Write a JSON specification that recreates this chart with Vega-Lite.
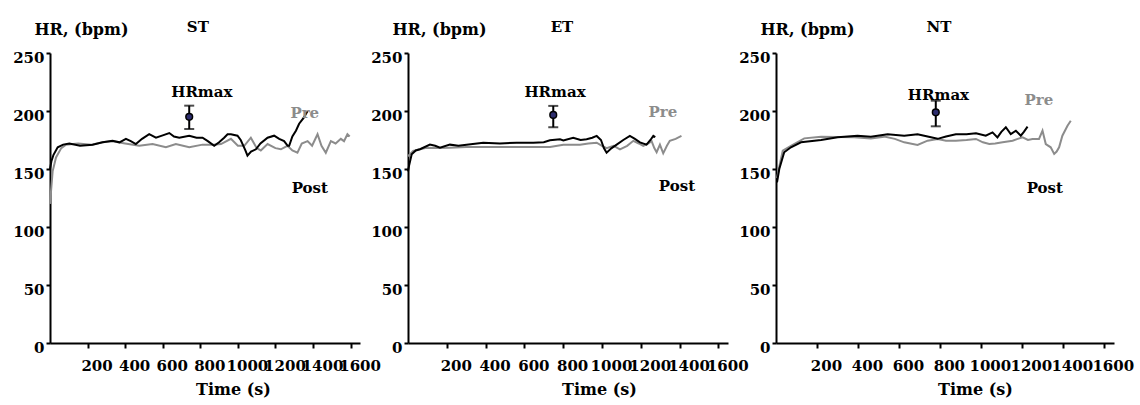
{
  "$schema": "https://vega.github.io/schema/vega-lite/v6.json",
  "background": "white",
  "padding": {"left": 12, "top": 20, "right": 5, "bottom": 2},
  "bounds": "flush",
  "spacing": 48,
  "config": {
    "view": {"stroke": null},
    "font": "DejaVu Serif",
    "axis": {"domainColor": "#000", "domainWidth": 2, "tickColor": "#000", "tickWidth": 2, "tickSize": 4,
      "labelFont": "DejaVu Serif", "labelFontWeight": "bold", "labelFontSize": 15, "labelColor": "#000",
      "titleFont": "DejaVu Serif", "titleFontWeight": "bold", "titleFontSize": 16, "titleColor": "#000",
      "grid": false, "labelOverlap": false, "labelBound": false, "labelFlush": false, "format": "d"},
    "axisX": {"tickSize": 5, "labelPadding": 10, "labelOffset": 9, "titleAlign": "center", "titleBaseline": "alphabetic", "titleY": 51},
    "axisY": {"labelPadding": 2, "labelOffset": 4, "titleAngle": 0, "titleAlign": "left", "titleBaseline": "alphabetic", "titleX": -16, "titleY": -19}
  },
  "datasets": {
    "hr": [
      {"panel":"ST","series":"Pre","t":0,"hr":120},{"panel":"ST","series":"Pre","t":14,"hr":148},{"panel":"ST","series":"Pre","t":32,"hr":160},{"panel":"ST","series":"Pre","t":60,"hr":168},{"panel":"ST","series":"Pre","t":85,"hr":171},{"panel":"ST","series":"Pre","t":150,"hr":172},{"panel":"ST","series":"Pre","t":220,"hr":171},{"panel":"ST","series":"Pre","t":280,"hr":173},{"panel":"ST","series":"Pre","t":333,"hr":174},{"panel":"ST","series":"Pre","t":400,"hr":172},{"panel":"ST","series":"Pre","t":475,"hr":170},{"panel":"ST","series":"Pre","t":546,"hr":171.5},{"panel":"ST","series":"Pre","t":617,"hr":168.7},{"panel":"ST","series":"Pre","t":670,"hr":171.5},{"panel":"ST","series":"Pre","t":741,"hr":168.7},{"panel":"ST","series":"Pre","t":812,"hr":171},{"panel":"ST","series":"Pre","t":870,"hr":171},{"panel":"ST","series":"Pre","t":910,"hr":171.5},{"panel":"ST","series":"Pre","t":963,"hr":176},{"panel":"ST","series":"Pre","t":1000,"hr":170},{"panel":"ST","series":"Pre","t":1034,"hr":170},{"panel":"ST","series":"Pre","t":1069,"hr":177},{"panel":"ST","series":"Pre","t":1100,"hr":168},{"panel":"ST","series":"Pre","t":1122,"hr":166},{"panel":"ST","series":"Pre","t":1158,"hr":171.5},{"panel":"ST","series":"Pre","t":1200,"hr":168},{"panel":"ST","series":"Pre","t":1229,"hr":167},{"panel":"ST","series":"Pre","t":1264,"hr":170},{"panel":"ST","series":"Pre","t":1290,"hr":166},{"panel":"ST","series":"Pre","t":1317,"hr":164},{"panel":"ST","series":"Pre","t":1340,"hr":172},{"panel":"ST","series":"Pre","t":1371,"hr":174},{"panel":"ST","series":"Pre","t":1395,"hr":170},{"panel":"ST","series":"Pre","t":1424,"hr":180},{"panel":"ST","series":"Pre","t":1445,"hr":170},{"panel":"ST","series":"Pre","t":1468,"hr":164},{"panel":"ST","series":"Pre","t":1495,"hr":174},{"panel":"ST","series":"Pre","t":1520,"hr":172},{"panel":"ST","series":"Pre","t":1548,"hr":176},{"panel":"ST","series":"Pre","t":1565,"hr":174},{"panel":"ST","series":"Pre","t":1583,"hr":180},{"panel":"ST","series":"Pre","t":1595,"hr":178},
      {"panel":"ST","series":"Post","t":0,"hr":150},{"panel":"ST","series":"Post","t":8,"hr":157},{"panel":"ST","series":"Post","t":18,"hr":162},{"panel":"ST","series":"Post","t":41,"hr":168.7},{"panel":"ST","series":"Post","t":70,"hr":171},{"panel":"ST","series":"Post","t":103,"hr":172},{"panel":"ST","series":"Post","t":160,"hr":170},{"panel":"ST","series":"Post","t":227,"hr":171},{"panel":"ST","series":"Post","t":280,"hr":173},{"panel":"ST","series":"Post","t":333,"hr":174.4},{"panel":"ST","series":"Post","t":370,"hr":173},{"panel":"ST","series":"Post","t":404,"hr":176},{"panel":"ST","series":"Post","t":430,"hr":174},{"panel":"ST","series":"Post","t":457,"hr":171.5},{"panel":"ST","series":"Post","t":490,"hr":176},{"panel":"ST","series":"Post","t":528,"hr":180},{"panel":"ST","series":"Post","t":564,"hr":177},{"panel":"ST","series":"Post","t":600,"hr":179},{"panel":"ST","series":"Post","t":635,"hr":181},{"panel":"ST","series":"Post","t":660,"hr":178},{"panel":"ST","series":"Post","t":688,"hr":177},{"panel":"ST","series":"Post","t":741,"hr":178.7},{"panel":"ST","series":"Post","t":780,"hr":177},{"panel":"ST","series":"Post","t":812,"hr":177},{"panel":"ST","series":"Post","t":840,"hr":174},{"panel":"ST","series":"Post","t":874,"hr":170},{"panel":"ST","series":"Post","t":900,"hr":173},{"panel":"ST","series":"Post","t":927,"hr":177},{"panel":"ST","series":"Post","t":945,"hr":180},{"panel":"ST","series":"Post","t":963,"hr":180},{"panel":"ST","series":"Post","t":998,"hr":178.7},{"panel":"ST","series":"Post","t":1015,"hr":175},{"panel":"ST","series":"Post","t":1025,"hr":171.5},{"panel":"ST","series":"Post","t":1040,"hr":166},{"panel":"ST","series":"Post","t":1051,"hr":161.5},{"panel":"ST","series":"Post","t":1070,"hr":165},{"panel":"ST","series":"Post","t":1096,"hr":167},{"panel":"ST","series":"Post","t":1120,"hr":172},{"panel":"ST","series":"Post","t":1158,"hr":177},{"panel":"ST","series":"Post","t":1193,"hr":178.7},{"panel":"ST","series":"Post","t":1220,"hr":176},{"panel":"ST","series":"Post","t":1246,"hr":174},{"panel":"ST","series":"Post","t":1265,"hr":170},{"panel":"ST","series":"Post","t":1273,"hr":170},{"panel":"ST","series":"Post","t":1290,"hr":178},{"panel":"ST","series":"Post","t":1309,"hr":183},{"panel":"ST","series":"Post","t":1326,"hr":189},{"panel":"ST","series":"Post","t":1350,"hr":194},{"panel":"ST","series":"Post","t":1371,"hr":200},
      {"panel":"ET","series":"Pre","t":0,"hr":161},{"panel":"ET","series":"Pre","t":27,"hr":165.5},{"panel":"ET","series":"Pre","t":60,"hr":167},{"panel":"ET","series":"Pre","t":96,"hr":168.4},{"panel":"ET","series":"Pre","t":150,"hr":168},{"panel":"ET","series":"Pre","t":216,"hr":168.4},{"panel":"ET","series":"Pre","t":300,"hr":169},{"panel":"ET","series":"Pre","t":388,"hr":169},{"panel":"ET","series":"Pre","t":470,"hr":169},{"panel":"ET","series":"Pre","t":560,"hr":169},{"panel":"ET","series":"Pre","t":650,"hr":169},{"panel":"ET","series":"Pre","t":732,"hr":169},{"panel":"ET","series":"Pre","t":801,"hr":171},{"panel":"ET","series":"Pre","t":850,"hr":171},{"panel":"ET","series":"Pre","t":887,"hr":171},{"panel":"ET","series":"Pre","t":930,"hr":172},{"panel":"ET","series":"Pre","t":973,"hr":172.7},{"panel":"ET","series":"Pre","t":1000,"hr":170},{"panel":"ET","series":"Pre","t":1024,"hr":168},{"panel":"ET","series":"Pre","t":1060,"hr":170},{"panel":"ET","series":"Pre","t":1093,"hr":167},{"panel":"ET","series":"Pre","t":1130,"hr":170},{"panel":"ET","series":"Pre","t":1162,"hr":174.3},{"panel":"ET","series":"Pre","t":1190,"hr":172},{"panel":"ET","series":"Pre","t":1213,"hr":170},{"panel":"ET","series":"Pre","t":1240,"hr":172},{"panel":"ET","series":"Pre","t":1256,"hr":174},{"panel":"ET","series":"Pre","t":1270,"hr":168},{"panel":"ET","series":"Pre","t":1282,"hr":164.5},{"panel":"ET","series":"Pre","t":1299,"hr":171},{"panel":"ET","series":"Pre","t":1316,"hr":163.5},{"panel":"ET","series":"Pre","t":1335,"hr":170},{"panel":"ET","series":"Pre","t":1350,"hr":174.3},{"panel":"ET","series":"Pre","t":1380,"hr":176},{"panel":"ET","series":"Pre","t":1410,"hr":178.5},
      {"panel":"ET","series":"Post","t":0,"hr":148},{"panel":"ET","series":"Post","t":5,"hr":152.5},{"panel":"ET","series":"Post","t":19,"hr":162.6},{"panel":"ET","series":"Post","t":40,"hr":166},{"panel":"ET","series":"Post","t":62,"hr":167},{"panel":"ET","series":"Post","t":113,"hr":171},{"panel":"ET","series":"Post","t":140,"hr":170},{"panel":"ET","series":"Post","t":165,"hr":168.4},{"panel":"ET","series":"Post","t":216,"hr":171},{"panel":"ET","series":"Post","t":260,"hr":170},{"panel":"ET","series":"Post","t":302,"hr":171},{"panel":"ET","series":"Post","t":388,"hr":172.7},{"panel":"ET","series":"Post","t":474,"hr":172},{"panel":"ET","series":"Post","t":560,"hr":172.7},{"panel":"ET","series":"Post","t":646,"hr":172.7},{"panel":"ET","series":"Post","t":700,"hr":173},{"panel":"ET","series":"Post","t":732,"hr":174.7},{"panel":"ET","series":"Post","t":784,"hr":175.6},{"panel":"ET","series":"Post","t":801,"hr":174.7},{"panel":"ET","series":"Post","t":852,"hr":177},{"panel":"ET","series":"Post","t":890,"hr":175},{"panel":"ET","series":"Post","t":921,"hr":175.6},{"panel":"ET","series":"Post","t":950,"hr":177},{"panel":"ET","series":"Post","t":973,"hr":178.5},{"panel":"ET","series":"Post","t":995,"hr":175},{"panel":"ET","series":"Post","t":1010,"hr":168},{"panel":"ET","series":"Post","t":1024,"hr":164},{"panel":"ET","series":"Post","t":1050,"hr":168},{"panel":"ET","series":"Post","t":1076,"hr":171},{"panel":"ET","series":"Post","t":1110,"hr":175},{"panel":"ET","series":"Post","t":1144,"hr":178.5},{"panel":"ET","series":"Post","t":1170,"hr":176},{"panel":"ET","series":"Post","t":1196,"hr":173},{"panel":"ET","series":"Post","t":1230,"hr":171},{"panel":"ET","series":"Post","t":1250,"hr":175},{"panel":"ET","series":"Post","t":1265,"hr":178.5},{"panel":"ET","series":"Post","t":1275,"hr":177.5},
      {"panel":"NT","series":"Pre","t":5,"hr":142},{"panel":"NT","series":"Pre","t":16,"hr":152},{"panel":"NT","series":"Pre","t":33,"hr":165.8},{"panel":"NT","series":"Pre","t":73,"hr":170},{"panel":"NT","series":"Pre","t":138,"hr":176.4},{"panel":"NT","series":"Pre","t":220,"hr":177.9},{"panel":"NT","series":"Pre","t":300,"hr":177.5},{"panel":"NT","series":"Pre","t":382,"hr":177.3},{"panel":"NT","series":"Pre","t":463,"hr":176.4},{"panel":"NT","series":"Pre","t":528,"hr":177.9},{"panel":"NT","series":"Pre","t":580,"hr":176},{"panel":"NT","series":"Pre","t":626,"hr":173},{"panel":"NT","series":"Pre","t":691,"hr":170.7},{"panel":"NT","series":"Pre","t":740,"hr":174.4},{"panel":"NT","series":"Pre","t":789,"hr":175.9},{"panel":"NT","series":"Pre","t":830,"hr":174.4},{"panel":"NT","series":"Pre","t":878,"hr":174.4},{"panel":"NT","series":"Pre","t":930,"hr":175},{"panel":"NT","series":"Pre","t":976,"hr":175.9},{"panel":"NT","series":"Pre","t":1010,"hr":173},{"panel":"NT","series":"Pre","t":1041,"hr":171.5},{"panel":"NT","series":"Pre","t":1070,"hr":172},{"panel":"NT","series":"Pre","t":1106,"hr":173},{"panel":"NT","series":"Pre","t":1155,"hr":174.4},{"panel":"NT","series":"Pre","t":1180,"hr":176},{"panel":"NT","series":"Pre","t":1204,"hr":177.3},{"panel":"NT","series":"Pre","t":1230,"hr":175},{"panel":"NT","series":"Pre","t":1252,"hr":175.9},{"panel":"NT","series":"Pre","t":1284,"hr":175.9},{"panel":"NT","series":"Pre","t":1301,"hr":183},{"panel":"NT","series":"Pre","t":1317,"hr":171.5},{"panel":"NT","series":"Pre","t":1341,"hr":168.7},{"panel":"NT","series":"Pre","t":1358,"hr":163},{"panel":"NT","series":"Pre","t":1370,"hr":165},{"panel":"NT","series":"Pre","t":1382,"hr":168.7},{"panel":"NT","series":"Pre","t":1398,"hr":178.7},{"panel":"NT","series":"Pre","t":1423,"hr":187.3},{"panel":"NT","series":"Pre","t":1439,"hr":191.6},
      {"panel":"NT","series":"Post","t":5,"hr":138.5},{"panel":"NT","series":"Post","t":16,"hr":150},{"panel":"NT","series":"Post","t":40,"hr":164.4},{"panel":"NT","series":"Post","t":73,"hr":168.7},{"panel":"NT","series":"Post","t":122,"hr":173},{"panel":"NT","series":"Post","t":220,"hr":175},{"panel":"NT","series":"Post","t":301,"hr":177.3},{"panel":"NT","series":"Post","t":398,"hr":178.7},{"panel":"NT","series":"Post","t":463,"hr":177.9},{"panel":"NT","series":"Post","t":545,"hr":180},{"panel":"NT","series":"Post","t":626,"hr":178.7},{"panel":"NT","series":"Post","t":691,"hr":180},{"panel":"NT","series":"Post","t":740,"hr":178},{"panel":"NT","series":"Post","t":789,"hr":176},{"panel":"NT","series":"Post","t":830,"hr":178},{"panel":"NT","series":"Post","t":878,"hr":180},{"panel":"NT","series":"Post","t":930,"hr":180},{"panel":"NT","series":"Post","t":976,"hr":180.8},{"panel":"NT","series":"Post","t":1024,"hr":178.7},{"panel":"NT","series":"Post","t":1057,"hr":181.6},{"panel":"NT","series":"Post","t":1081,"hr":177.3},{"panel":"NT","series":"Post","t":1100,"hr":182},{"panel":"NT","series":"Post","t":1122,"hr":186},{"panel":"NT","series":"Post","t":1146,"hr":180},{"panel":"NT","series":"Post","t":1171,"hr":183},{"panel":"NT","series":"Post","t":1195,"hr":178.7},{"panel":"NT","series":"Post","t":1210,"hr":182},{"panel":"NT","series":"Post","t":1228,"hr":186.5}
    ],
    "hrmax": [
      {"panel":"ST","t":741,"hr":195,"lo":184.5,"hi":204.6},
      {"panel":"ET","t":749,"hr":196.6,"lo":186,"hi":204.4},
      {"panel":"NT","t":780,"hr":198.9,"lo":186.8,"hi":208.9}
    ],
    "labels": [
      {"panel":"ST","label":"HRmax","t":808,"hr":216},{"panel":"ST","label":"Pre","t":1356,"hr":198},{"panel":"ST","label":"Post","t":1383,"hr":134},{"panel":"ST","label":"ST","t":787,"hr":272},
      {"panel":"ET","label":"HRmax","t":758,"hr":216},{"panel":"ET","label":"Pre","t":1314,"hr":199},{"panel":"ET","label":"Post","t":1387,"hr":135},{"panel":"ET","label":"ET","t":794,"hr":272},
      {"panel":"NT","label":"HRmax","t":793,"hr":214},{"panel":"NT","label":"Pre","t":1283,"hr":209.5},{"panel":"NT","label":"Post","t":1312,"hr":134},{"panel":"NT","label":"NT","t":795,"hr":272}
    ]
  },
  "hconcat": [
    {
      "width": 310, "height": 290,
      "encoding": {
        "x": {"field": "t", "type": "quantitative", "title": "Time (s)", "scale": {"domain": [0, 1650], "nice": false}, "axis": {"values": [200,400,600,800,1000,1200,1400,1600], "titleX": 183}},
        "y": {"field": "hr", "type": "quantitative", "title": "HR, (bpm)", "scale": {"domain": [0, 250], "nice": false}, "axis": {"values": [0,50,100,150,200,250]}}
      },
      "layer": [
        {"data": {"name": "hr"}, "transform": [{"filter": "datum.panel === 'ST' && datum.series === 'Pre'"}], "mark": {"type": "line", "strokeWidth": 2, "color": "#8c8c8c"}, "encoding": {"order": {"field": "t", "type": "quantitative"}}},
        {"data": {"name": "hr"}, "transform": [{"filter": "datum.panel === 'ST' && datum.series === 'Post'"}], "mark": {"type": "line", "strokeWidth": 2, "color": "#000000"}, "encoding": {"order": {"field": "t", "type": "quantitative"}}},
        {"data": {"name": "hrmax"}, "transform": [{"filter": "datum.panel === 'ST'"}], "mark": {"type": "errorbar", "color": "#000", "ticks": {"size": 10, "thickness": 2, "color": "#000"}, "rule": {"strokeWidth": 2, "color": "#000"}}, "encoding": {"y": {"field": "lo", "type": "quantitative", "title": "HR, (bpm)"}, "y2": {"field": "hi"}}},
        {"data": {"name": "hrmax"}, "transform": [{"filter": "datum.panel === 'ST'"}], "mark": {"type": "point", "filled": true, "fill": "#2d2d6e", "stroke": "#000", "strokeWidth": 1.5, "size": 45, "opacity": 1}},
        {"data": {"name": "labels"}, "transform": [{"filter": "datum.panel === 'ST'"}], "mark": {"type": "text", "font": "DejaVu Serif", "fontWeight": "bold", "fontSize": 15, "baseline": "middle", "align": "center"}, "encoding": {"text": {"field": "label"}, "color": {"field": "label", "type": "nominal", "scale": {"domain": ["Pre", "Post", "HRmax", "ST", "ET", "NT"], "range": ["#8c8c8c", "#000000", "#000000", "#000000", "#000000", "#000000"]}, "legend": null}}}
      ]
    },
    {
      "width": 320, "height": 290,
      "encoding": {
        "x": {"field": "t", "type": "quantitative", "title": "Time (s)", "scale": {"domain": [0, 1650], "nice": false}, "axis": {"values": [200,400,600,800,1000,1200,1400,1600], "titleX": 191}},
        "y": {"field": "hr", "type": "quantitative", "title": "HR, (bpm)", "scale": {"domain": [0, 250], "nice": false}, "axis": {"values": [0,50,100,150,200,250]}}
      },
      "layer": [
        {"data": {"name": "hr"}, "transform": [{"filter": "datum.panel === 'ET' && datum.series === 'Pre'"}], "mark": {"type": "line", "strokeWidth": 2, "color": "#8c8c8c"}, "encoding": {"order": {"field": "t", "type": "quantitative"}}},
        {"data": {"name": "hr"}, "transform": [{"filter": "datum.panel === 'ET' && datum.series === 'Post'"}], "mark": {"type": "line", "strokeWidth": 2, "color": "#000000"}, "encoding": {"order": {"field": "t", "type": "quantitative"}}},
        {"data": {"name": "hrmax"}, "transform": [{"filter": "datum.panel === 'ET'"}], "mark": {"type": "errorbar", "color": "#000", "ticks": {"size": 10, "thickness": 2, "color": "#000"}, "rule": {"strokeWidth": 2, "color": "#000"}}, "encoding": {"y": {"field": "lo", "type": "quantitative", "title": "HR, (bpm)"}, "y2": {"field": "hi"}}},
        {"data": {"name": "hrmax"}, "transform": [{"filter": "datum.panel === 'ET'"}], "mark": {"type": "point", "filled": true, "fill": "#2d2d6e", "stroke": "#000", "strokeWidth": 1.5, "size": 45, "opacity": 1}},
        {"data": {"name": "labels"}, "transform": [{"filter": "datum.panel === 'ET'"}], "mark": {"type": "text", "font": "DejaVu Serif", "fontWeight": "bold", "fontSize": 15, "baseline": "middle", "align": "center"}, "encoding": {"text": {"field": "label"}, "color": {"field": "label", "type": "nominal", "scale": {"domain": ["Pre", "Post", "HRmax", "ST", "ET", "NT"], "range": ["#8c8c8c", "#000000", "#000000", "#000000", "#000000", "#000000"]}, "legend": null}}}
      ]
    },
    {
      "width": 338, "height": 290,
      "encoding": {
        "x": {"field": "t", "type": "quantitative", "title": "Time (s)", "scale": {"domain": [0, 1650], "nice": false}, "axis": {"values": [200,400,600,800,1000,1200,1400,1600], "titleX": 199}},
        "y": {"field": "hr", "type": "quantitative", "title": "HR, (bpm)", "scale": {"domain": [0, 250], "nice": false}, "axis": {"values": [0,50,100,150,200,250]}}
      },
      "layer": [
        {"data": {"name": "hr"}, "transform": [{"filter": "datum.panel === 'NT' && datum.series === 'Pre'"}], "mark": {"type": "line", "strokeWidth": 2, "color": "#8c8c8c"}, "encoding": {"order": {"field": "t", "type": "quantitative"}}},
        {"data": {"name": "hr"}, "transform": [{"filter": "datum.panel === 'NT' && datum.series === 'Post'"}], "mark": {"type": "line", "strokeWidth": 2, "color": "#000000"}, "encoding": {"order": {"field": "t", "type": "quantitative"}}},
        {"data": {"name": "hrmax"}, "transform": [{"filter": "datum.panel === 'NT'"}], "mark": {"type": "errorbar", "color": "#000", "ticks": {"size": 10, "thickness": 2, "color": "#000"}, "rule": {"strokeWidth": 2, "color": "#000"}}, "encoding": {"y": {"field": "lo", "type": "quantitative", "title": "HR, (bpm)"}, "y2": {"field": "hi"}}},
        {"data": {"name": "hrmax"}, "transform": [{"filter": "datum.panel === 'NT'"}], "mark": {"type": "point", "filled": true, "fill": "#2d2d6e", "stroke": "#000", "strokeWidth": 1.5, "size": 45, "opacity": 1}},
        {"data": {"name": "labels"}, "transform": [{"filter": "datum.panel === 'NT'"}], "mark": {"type": "text", "font": "DejaVu Serif", "fontWeight": "bold", "fontSize": 15, "baseline": "middle", "align": "center"}, "encoding": {"text": {"field": "label"}, "color": {"field": "label", "type": "nominal", "scale": {"domain": ["Pre", "Post", "HRmax", "ST", "ET", "NT"], "range": ["#8c8c8c", "#000000", "#000000", "#000000", "#000000", "#000000"]}, "legend": null}}}
      ]
    }
  ]
}
